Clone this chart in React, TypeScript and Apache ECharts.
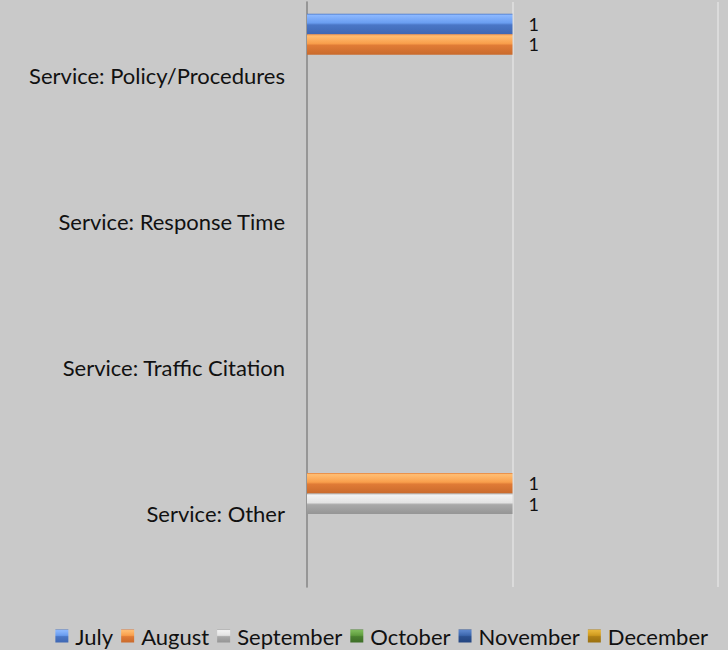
import React, { useEffect, useRef } from "react";
import * as echarts from "echarts";

const categories = [
  "Service: Policy/Procedures",
  "Service: Response Time",
  "Service: Traffic Citation",
  "Service: Other",
];
const seriesNames = ["July", "August", "September", "October", "November", "December"];
const july = [1, 0, 0, 0];
const august = [1, 0, 0, 1];
const september = [0, 0, 0, 1];
const october = [0, 0, 0, 0];
const november = [0, 0, 0, 0];
const december = [0, 0, 0, 0];
const valueTicks = [0, 1, 2];

const palette = [
  { light: "#8cb8ff", mid: "#6a9df0", dark: "#4a76c6", darker: "#3f67b3" },
  { light: "#ffbd72", mid: "#f99f4c", dark: "#e07b36", darker: "#c96a2c" },
  { light: "#f2f2f2", mid: "#e3e3e3", dark: "#a9a9a9", darker: "#959595" },
  { light: "#7dba5a", mid: "#5f9c3e", dark: "#4a8030", darker: "#3d6e27" },
  { light: "#5c86cc", mid: "#3d67ad", dark: "#2c5190", darker: "#244580" },
  { light: "#e8b63a", mid: "#cf9a1e", dark: "#b08015", darker: "#9a7010" },
];

function grad(p: { light: string; mid: string; dark: string; darker: string }) {
  return new echarts.graphic.LinearGradient(0, 0, 0, 1, [
    { offset: 0, color: p.dark },
    { offset: 0.08, color: p.light },
    { offset: 0.45, color: p.mid },
    { offset: 0.55, color: p.dark },
    { offset: 1, color: p.darker },
  ]);
}

export default function App() {
  const ref = useRef<HTMLDivElement>(null);
  useEffect(() => {
    document.body.style.margin = "0";
    if (!ref.current) return;
    const chart = echarts.init(ref.current, undefined, { renderer: "svg" });
    const data = [july, august, september, october, november, december];
    const font = "Lato";
    chart.setOption({
      animation: false,
      backgroundColor: "#c9c9c9",
      grid: { left: 307, right: 10, top: 2, height: 585, containLabel: false },
      legend: {
        data: seriesNames,
        right: 20,
        top: 625,
        padding: 0,
        itemWidth: 13,
        itemHeight: 13,
        itemGap: 8,
        icon: "rect",
        textStyle: {
          fontFamily: font,
          fontSize: 22,
          lineHeight: 22,
          color: "#111",
          padding: [0, 0, 0, 2],
        },
      },
      xAxis: {
        type: "value",
        min: valueTicks[0],
        max: valueTicks[valueTicks.length - 1],
        interval: 1,
        axisLabel: { show: false },
        axisLine: { show: false },
        axisTick: { show: false },
        splitLine: { show: true, lineStyle: { color: "#e1e1e1", width: 1.5 } },
      },
      yAxis: {
        type: "category",
        data: categories,
        inverse: true,
        axisLine: { show: true, lineStyle: { color: "#7f7f7f", width: 1.5 } },
        axisTick: { show: false },
        axisLabel: { fontFamily: font, fontSize: 22, color: "#111", margin: 22 },
      },
      series: seriesNames.map((name, i) => ({
        name,
        type: "bar",
        data: data[i],
        barGap: "0%",
        barCategoryGap: "16%",
        itemStyle: { color: grad(palette[i]) },
        label: {
          show: true,
          position: "right",
          distance: 16,
          fontFamily: font,
          fontSize: 18,
          lineHeight: 18,
          color: "#111",
          formatter: (p: any) => (p.value ? String(p.value) : ""),
        },
      })),
    });
    return () => chart.dispose();
  }, []);
  return <div ref={ref} style={{ width: 728, height: 650 }} />;
}
